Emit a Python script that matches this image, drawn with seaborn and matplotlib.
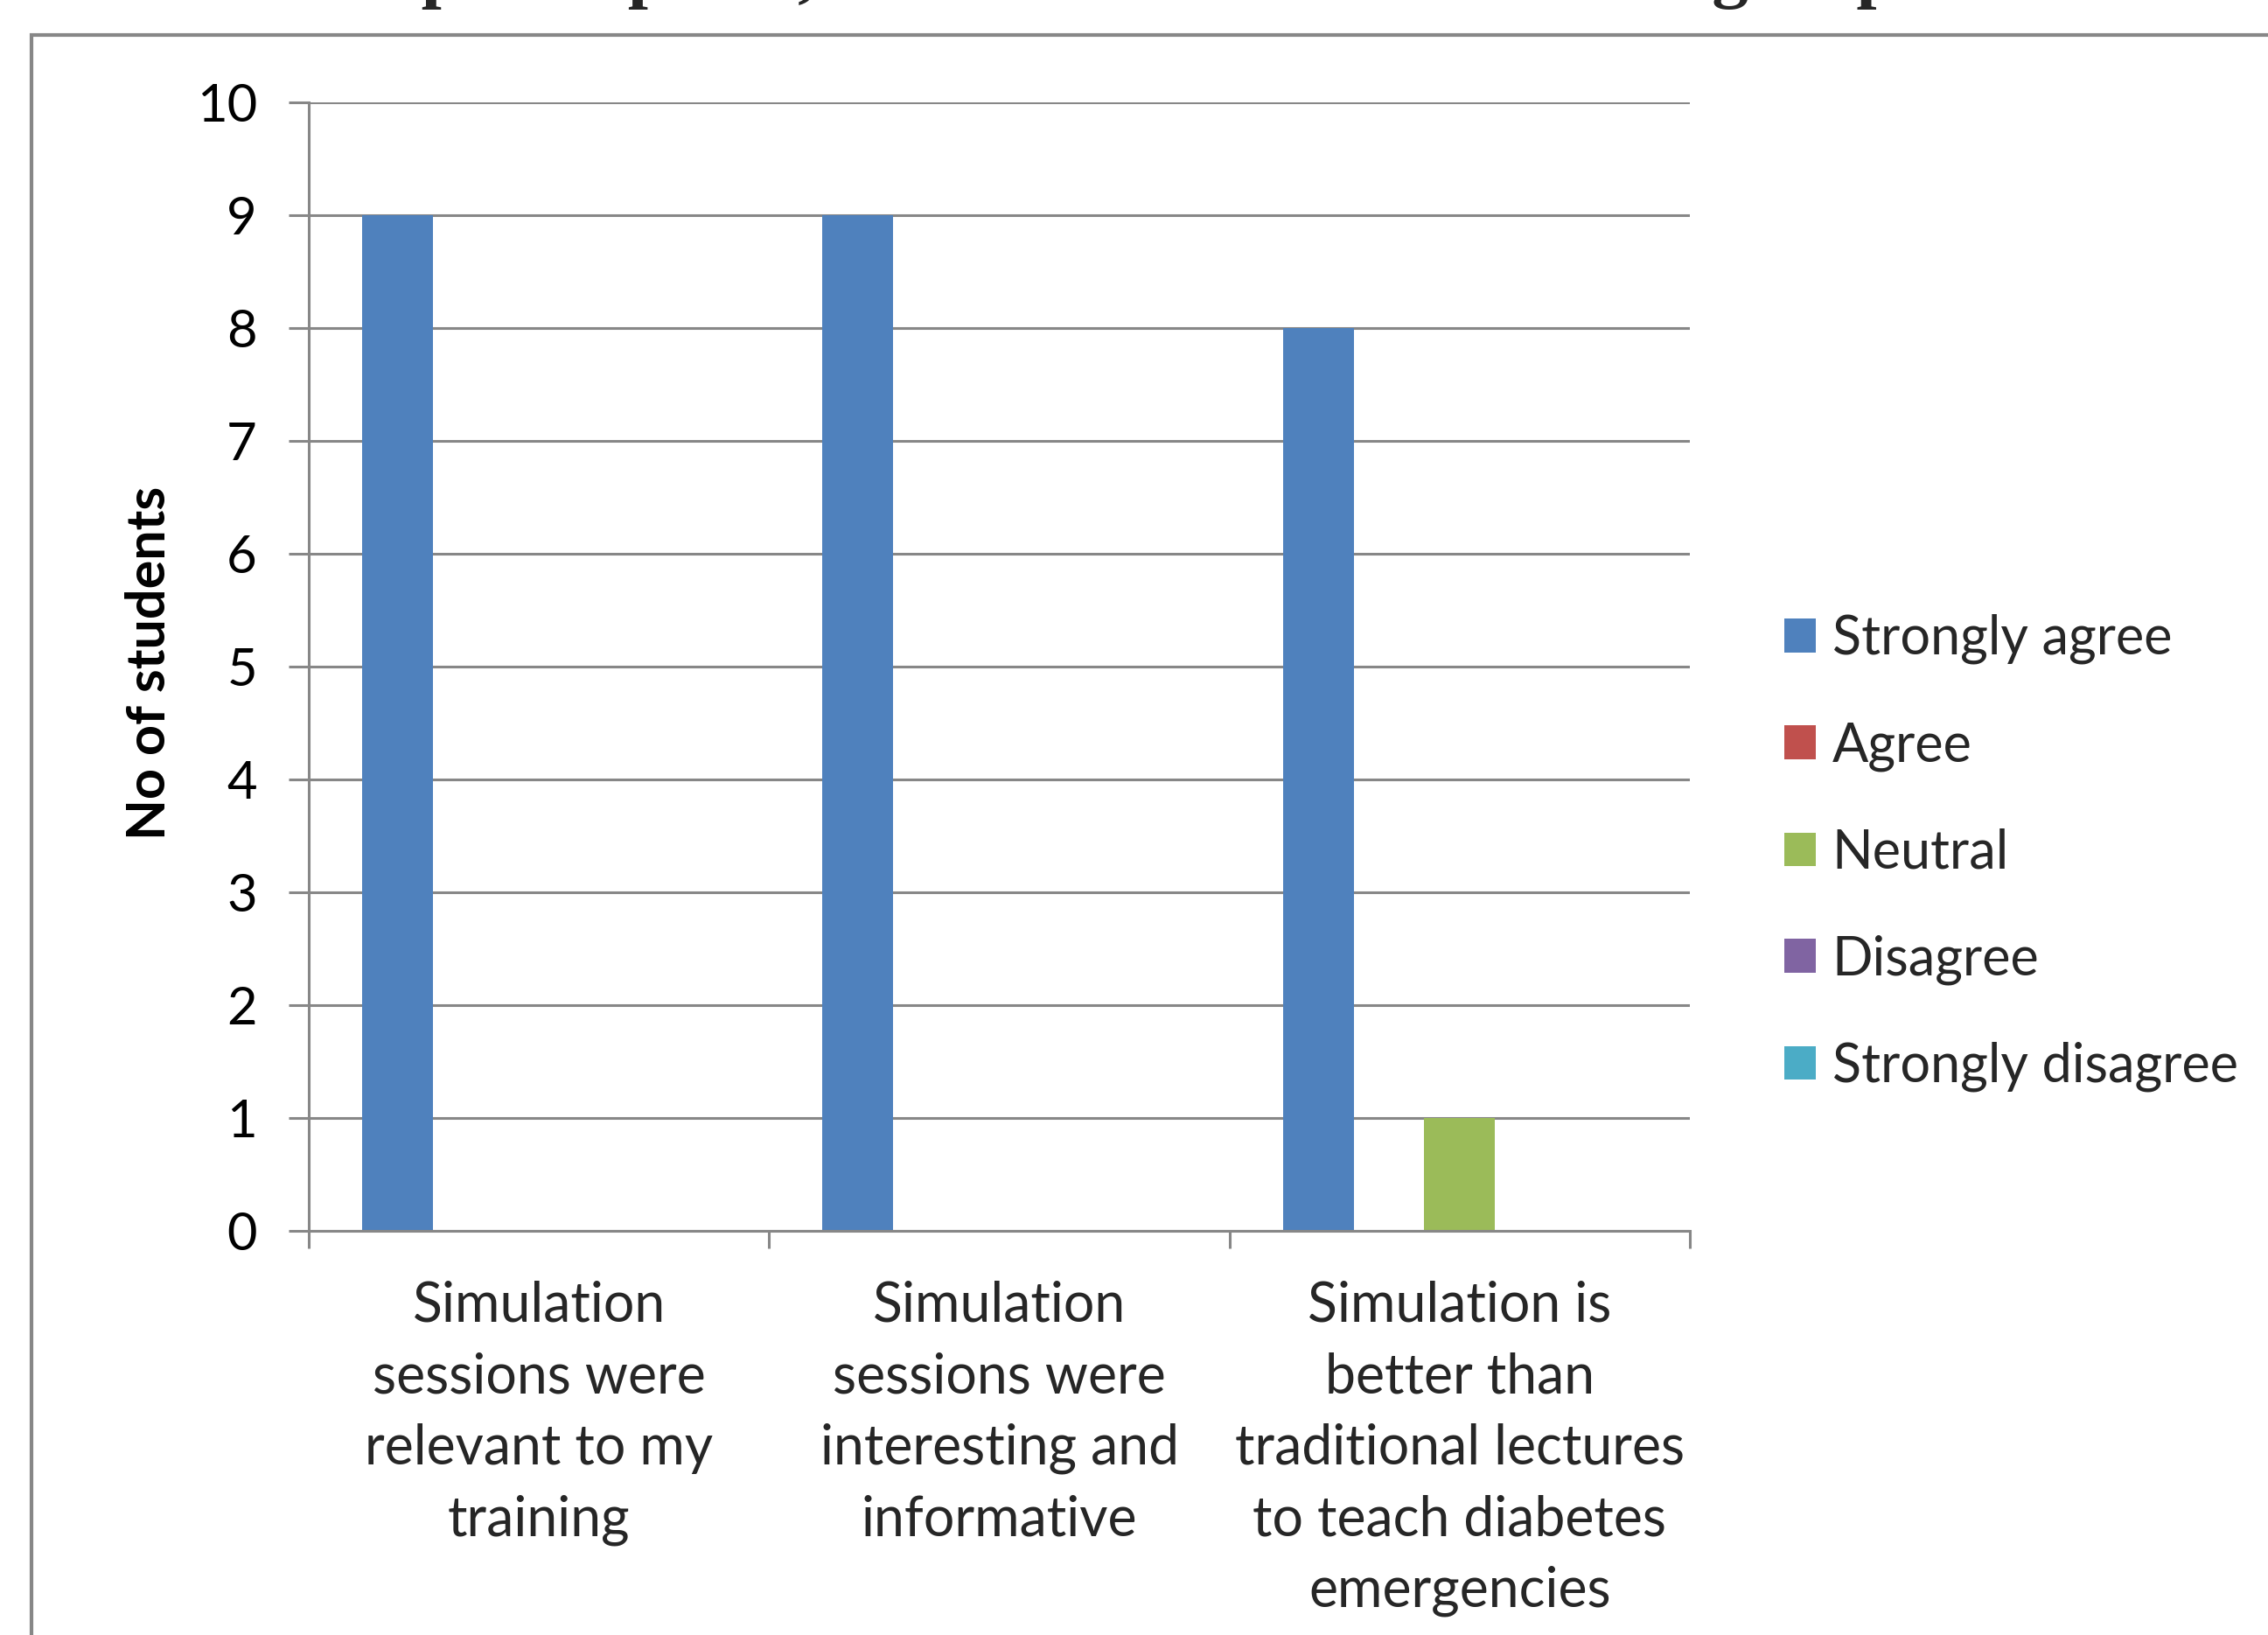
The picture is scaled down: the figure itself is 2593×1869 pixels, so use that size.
import pandas as pd
import seaborn as sns
import matplotlib.pyplot as plt
from matplotlib.patches import Rectangle

# data
statements = [
    'Simulation\nsessions were\nrelevant to my\ntraining',
    'Simulation\nsessions were\ninteresting and\ninformative',
    'Simulation is\nbetter than\ntraditional lectures\nto teach diabetes\nemergencies',
]
responses = ['Strongly agree', 'Agree', 'Neutral', 'Disagree', 'Strongly disagree']
strongly_agree = [9, 9, 8]
agree = [0, 0, 0]
neutral = [0, 0, 1]
disagree = [0, 0, 0]
strongly_disagree = [0, 0, 0]
colors = ['#4F81BD', '#C0504D', '#9BBB59', '#8064A2', '#4BACC6']

counts = [strongly_agree, agree, neutral, disagree, strongly_disagree]
rows = []
for resp, vals in zip(responses, counts):
    for st, v in zip(statements, vals):
        rows.append({'Statement': st, 'Response': resp, 'Students': v})
df = pd.DataFrame(rows)

sns.set_theme(style='white')
plt.rcParams['font.family'] = ['Lato', 'DejaVu Sans']

W, H = 2593, 1869
fig = plt.figure(figsize=(W / 100, H / 100), dpi=100)
grey = '#878787'

# axes placed in pixel terms of the reference
left, right, top, bottom = 353, 1932, 117, 1407
ax = fig.add_axes([left / W, (H - bottom) / H, (right - left) / W, (bottom - top) / H])

sns.barplot(data=df, x='Statement', y='Students', hue='Response', order=statements,
            hue_order=responses, palette=colors, width=0.768, linewidth=0,
            saturation=1, errorbar=None, ax=ax)

ax.set_xlim(-0.5, 2.5)
ax.set_ylim(0, 10)
ax.set_yticks(range(0, 11))
ax.yaxis.grid(True, color=grey, linewidth=2.2)
ax.set_axisbelow(True)
for s in ['top', 'right']:
    ax.spines[s].set_visible(False)
for s in ['left', 'bottom']:
    ax.spines[s].set_color(grey)
    ax.spines[s].set_linewidth(2.2)

ax.tick_params(axis='y', left=True, length=16.5, width=2.2, color=grey,
               pad=26, labelsize=43, labelcolor='black')
ax.set_xticks([-0.5, 0.5, 1.5, 2.5], minor=True)
ax.tick_params(axis='x', which='minor', bottom=True, length=14.5, width=2.2, color=grey)
ax.set_xticks(range(len(statements)))
ax.set_xticklabels(statements, fontsize=45, linespacing=1.5, ha='center')
ax.tick_params(axis='x', which='major', length=0, pad=41)

ax.set_xlabel('')
ax.set_ylabel('No of students', fontsize=44, fontweight='bold', color='black')
ax.yaxis.set_label_coords((199 - left) / (right - left), (bottom - 758) / (bottom - top))

handles, labels = ax.get_legend_handles_labels()
ax.get_legend().remove()
fig.legend(handles, labels, loc='center left', bbox_to_anchor=(2009 / W, 1 - 975 / H),
           frameon=False, fontsize=44, borderpad=0, handlelength=0.6, handleheight=0.6,
           handletextpad=0.3, labelspacing=1.06)

# chart-area border (runs off the right and bottom of the picture)
fig.add_artist(Rectangle((36 / W, -0.5), 2, 1.5 - 40 / H, transform=fig.transFigure,
                         fill=False, edgecolor=grey, linewidth=3))

# title of the source figure, almost entirely cut off at the top edge
fig.text(28 / W, 1 + 7 / H, "Feedback of participants, from the simulation trained group",
         family=['Liberation Serif'], fontweight='bold', fontsize=60, va='baseline', ha='left')

fig.savefig('out.png', dpi=100)
